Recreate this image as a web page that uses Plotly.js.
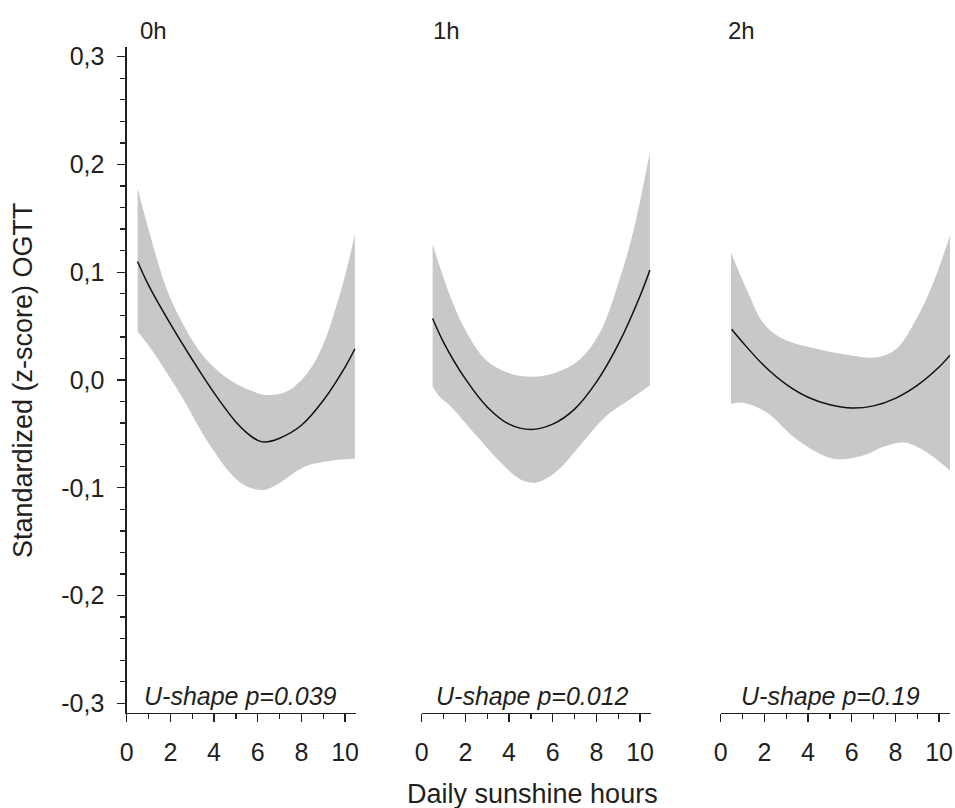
<!DOCTYPE html>
<html>
<head>
<meta charset="utf-8">
<script src="https://cdn.plot.ly/plotly-3.0.1.min.js"></script>
<style>html,body{margin:0;padding:0;background:#fff;}#chart{width:955px;height:808px;}</style>
</head>
<body>
<div id="chart"></div>
<script>
// ---- data ----
const panelTitles = ["0h", "1h", "2h"];
const pLabels = ["U-shape p=0.039", "U-shape p=0.012", "U-shape p=0.19"];
const yTickVals = [-0.3, -0.2, -0.1, 0.0, 0.1, 0.2, 0.3];
const yTickText = ["-0,3", "-0,2", "-0,1", "0,0", "0,1", "0,2", "0,3"];
const xTickVals = [0, 2, 4, 6, 8, 10];

// 0h
const line0X = [0.5, 1, 2, 3, 4, 5, 5.5, 6, 6.3, 7, 8, 9, 10, 10.45];
const line0Y = [0.110, 0.088, 0.052, 0.019, -0.012, -0.039, -0.049, -0.056, -0.0575, -0.054, -0.042, -0.019, 0.012, 0.029];
const up0X = [0.5, 1, 1.8, 2.5, 3.4, 4.2, 4.9, 5.6, 6.4, 7.3, 8, 8.5, 9, 9.5, 10, 10.45];
const up0Y = [0.178, 0.140, 0.086, 0.055, 0.025, 0.008, -0.002, -0.009, -0.014, -0.011, 0.000, 0.013, 0.033, 0.062, 0.097, 0.135];
const lo0X = [0.5, 1, 1.8, 2.6, 3.4, 4.0, 4.6, 5.2, 5.8, 6.3, 6.8, 7.4, 7.9, 8.5, 9.0, 9.7, 10.45];
const lo0Y = [0.045, 0.032, 0.008, -0.018, -0.047, -0.066, -0.083, -0.095, -0.101, -0.102, -0.098, -0.090, -0.083, -0.078, -0.076, -0.074, -0.073];

// 1h
const line1X = [0.5, 1, 2, 3, 4, 5, 6, 7, 8, 9, 10, 10.45];
const line1Y = [0.057, 0.035, 0.001, -0.025, -0.041, -0.046, -0.041, -0.027, -0.002, 0.033, 0.078, 0.102];
const up1X = [0.5, 1.3, 2.06, 2.97, 4.04, 5.1, 6.17, 7.24, 8.16, 9.07, 9.68, 10.45];
const up1Y = [0.126, 0.078, 0.044, 0.018, 0.006, 0.003, 0.007, 0.019, 0.044, 0.094, 0.137, 0.211];
const lo1X = [0.5, 0.8, 1.3, 2.52, 3.59, 4.5, 5.26, 6.17, 7.24, 8.47, 9.53, 10.45];
const lo1Y = [-0.006, -0.015, -0.024, -0.052, -0.076, -0.092, -0.095, -0.085, -0.061, -0.033, -0.018, -0.005];

// 2h
const line2X = [0.5, 1, 2, 3, 4, 5, 6, 7, 8, 9, 10, 10.5];
const line2Y = [0.047, 0.035, 0.013, -0.004, -0.016, -0.023, -0.026, -0.024, -0.017, -0.005, 0.012, 0.023];
const up2X = [0.47, 1.19, 1.95, 2.87, 4.39, 5.92, 7.14, 8.05, 8.97, 9.73, 10.5];
const up2Y = [0.118, 0.084, 0.053, 0.038, 0.029, 0.023, 0.021, 0.029, 0.057, 0.090, 0.134];
const lo2X = [0.47, 1.03, 2.1, 3.47, 5.15, 6.53, 7.44, 8.36, 9.27, 10.5];
const lo2Y = [-0.022, -0.021, -0.030, -0.055, -0.073, -0.070, -0.062, -0.058, -0.065, -0.084];

// ---- build ----
const INK = "#231f20";
const BAND = "#c7c8ca";
const FONT = "Liberation Sans, Arial, sans-serif";
const panels = [
  {xa: "x", lx: line0X, ly: line0Y, ux: up0X, uy: up0Y, dx: lo0X, dy: lo0Y},
  {xa: "x2", lx: line1X, ly: line1Y, ux: up1X, uy: up1Y, dx: lo1X, dy: lo1Y},
  {xa: "x3", lx: line2X, ly: line2Y, ux: up2X, uy: up2Y, dx: lo2X, dy: lo2Y}
];
const traces = [];
panels.forEach(p => {
  traces.push({x: p.dx, y: p.dy, xaxis: p.xa, yaxis: "y", mode: "lines",
    line: {width: 0, shape: "spline", smoothing: 1}, hoverinfo: "skip", showlegend: false});
  traces.push({x: p.ux, y: p.uy, xaxis: p.xa, yaxis: "y", mode: "lines", fill: "tonexty",
    fillcolor: BAND, line: {width: 0, shape: "spline", smoothing: 1}, hoverinfo: "skip", showlegend: false});
  traces.push({x: p.lx, y: p.ly, xaxis: p.xa, yaxis: "y", mode: "lines",
    line: {color: "#111", width: 1.5, shape: "spline"}, showlegend: false});
});

const W = 955, H = 808;
const xDom = [[126.7, 356], [421.7, 651], [720.7, 950]];
const yTop = 47, yBot = 713;

function xAxis(i) {
  return {
    domain: [xDom[i][0] / W, xDom[i][1] / W],
    range: [0, 10.5], anchor: "y", showgrid: false, zeroline: false,
    showline: true, linecolor: INK, linewidth: 1.3,
    ticks: "outside", ticklen: 8, tickwidth: 1.3, tickcolor: INK,
    tickvals: xTickVals, ticktext: xTickVals.map(String),
    ticklabelstandoff: 9,
    tickfont: {family: FONT, size: 25, color: INK},
    minor: {dtick: 1, tick0: 0, ticks: "outside", ticklen: 5, tickwidth: 1.3, tickcolor: INK, showgrid: false}
  };
}

const annotations = [];
const titleX = [138, 431, 726];
const pX = [240, 532, 830];
for (let i = 0; i < 3; i++) {
  annotations.push({text: panelTitles[i], xref: "paper", yref: "paper", x: titleX[i] / W, y: 1 - 30 / H,
    xanchor: "left", yanchor: "middle", showarrow: false, font: {family: FONT, size: 24, color: INK}});
  annotations.push({text: "<i>" + pLabels[i] + "</i>", xref: "paper", yref: "paper", x: pX[i] / W, y: 1 - 696 / H,
    xanchor: "center", yanchor: "middle", showarrow: false, font: {family: FONT, size: 25, color: INK}});
}
annotations.push({text: "Standardized (z-score) OGTT", xref: "paper", yref: "paper", x: 23 / W, y: 1 - 380 / H,
  xanchor: "center", yanchor: "middle", textangle: -90, showarrow: false, font: {family: FONT, size: 27, color: INK}});
annotations.push({text: "Daily sunshine hours", xref: "paper", yref: "paper", x: 532 / W, y: 1 - 794 / H,
  xanchor: "center", yanchor: "middle", showarrow: false, font: {family: FONT, size: 27, color: INK}});

const layout = {
  width: W, height: H,
  margin: {l: 0, r: 0, t: 0, b: 0},
  paper_bgcolor: "#fff", plot_bgcolor: "#fff",
  showlegend: false,
  xaxis: xAxis(0), xaxis2: xAxis(1), xaxis3: xAxis(2),
  yaxis: {
    domain: [1 - yBot / H, 1 - yTop / H], range: [-0.309, 0.309], anchor: "x",
    showgrid: false, zeroline: false, showline: true, linecolor: INK, linewidth: 1.3,
    ticks: "outside", ticklen: 8, tickwidth: 1.3, tickcolor: INK,
    tickvals: yTickVals, ticktext: yTickText, ticklabelstandoff: 8,
    tickfont: {family: FONT, size: 25, color: INK},
    minor: {dtick: 0.02, tick0: 0, ticks: "outside", ticklen: 5, tickwidth: 1.3, tickcolor: INK, showgrid: false}
  },
  annotations: annotations
};

Plotly.newPlot("chart", traces, layout, {displayModeBar: false, staticPlot: true});
</script>
</body>
</html>
